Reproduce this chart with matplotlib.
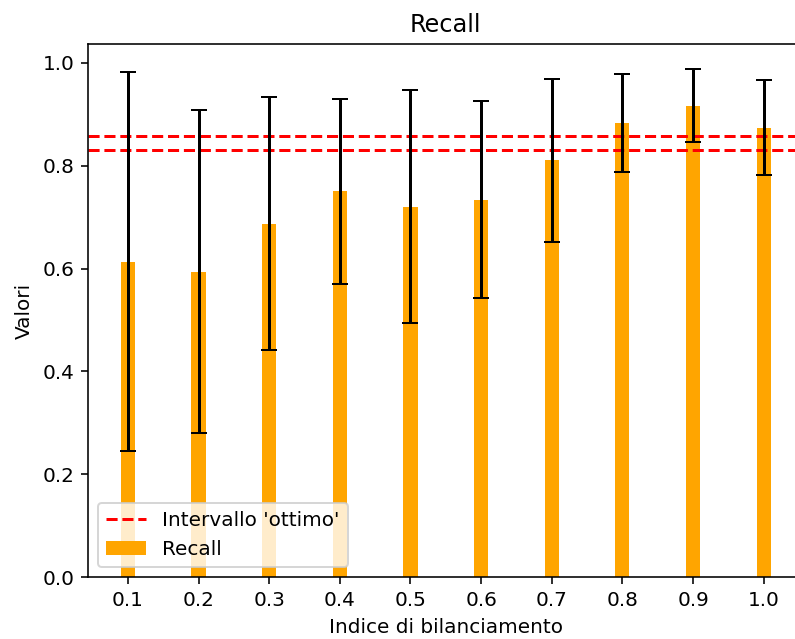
import matplotlib
matplotlib.use("Agg")
import matplotlib.pyplot as plt

indices = [0.1, 0.2, 0.3, 0.4, 0.5, 0.6, 0.7, 0.8, 0.9, 1.0]
recall_mean = [0.613, 0.594, 0.687, 0.750, 0.720, 0.734, 0.810, 0.883, 0.916, 0.874]
recall_std = [0.368, 0.314, 0.246, 0.180, 0.226, 0.192, 0.158, 0.096, 0.071, 0.092]
optimal_low = 0.831
optimal_high = 0.857

DPI = 144
fig = plt.figure(figsize=(795 / DPI, 639 / DPI), dpi=DPI)
ax = fig.add_axes([88.3 / 795, 61.7 / 639, 715 / 795, 533.3 / 639])

ax.axhline(optimal_high, color="red", linestyle="--", label="Intervallo 'ottimo'")
ax.axhline(optimal_low, color="red", linestyle="--")
ax.bar(indices, recall_mean, width=0.02, color="orange", yerr=recall_std,
       capsize=4, ecolor="black", label="Recall")

ax.set_xticks(indices)
ax.set_xticklabels([f"{v:.1f}" for v in indices])
ax.set_title("Recall")
ax.set_xlabel("Indice di bilanciamento")
ax.set_ylabel("Valori")
ax.legend(loc="lower left")
# the reference is cropped just before the right spine
ax.spines["right"].set_visible(False)

fig.savefig("out.png", dpi=DPI)
